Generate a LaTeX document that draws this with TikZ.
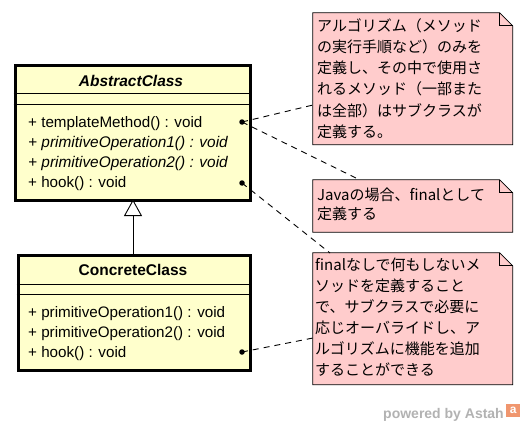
\documentclass[tikz,border=0pt]{standalone}
\usepackage{fontspec}
\setmainfont{Liberation Sans}
\newfontfamily\jpfont{Noto Sans CJK JP}
\usetikzlibrary{arrows.meta}
\definecolor{classyellow}{RGB}{255,255,204}
\definecolor{notepink}{RGB}{255,204,204}
\definecolor{wmgray}{RGB}{178,178,178}
\definecolor{astahorange}{RGB}{240,150,110}
\begin{document}
\begin{tikzpicture}[x=1pt,y=-1pt,
  classbox/.style={draw, line width=3pt, fill=classyellow, inner sep=0, anchor=north west},
  compline/.style={line width=0.9pt},
  clsname/.style={inner sep=0, font=\bfseries\fontsize{15.5}{18}\selectfont},
  optext/.style={anchor=base west, inner sep=0, font=\fontsize{15.2}{20}\selectfont},
  noterect/.style={inner sep=0, minimum width=199.5pt},
  notefill/.style={draw, fill=notepink, line width=0.8pt},
  notetext/.style={anchor=north west, inner sep=0, align=left},
  notedash/.style={dash pattern=on 6pt off 5pt, line width=0.9pt},
  attach/.style={circle, fill=black, inner sep=0, minimum size=5.5pt},
  gentip/.style={-{Triangle[length=16.5pt,width=18pt,fill=white]}, line width=0.9pt}
]
\useasboundingbox (0,0) rectangle (526,425);
\fill[white] (0,0) rectangle (526,425);

% ---------- AbstractClass ----------
\node[classbox, minimum width=235pt, minimum height=134.5pt] (abs) at (13.5,64.5) {};
\draw[compline] (13.5,93) -- (248.5,93);
\draw[compline] (13.5,104) -- (248.5,104);
\node[clsname, font=\bfseries\itshape\fontsize{15.5}{18}\selectfont] (absname) at (131,81) {AbstractClass};
\node[optext] (abs1) at (28,127) {+ templateMethod() : void};
\node[optext, font=\itshape\fontsize{15.4}{20}\selectfont] (abs2) at (28,147) {+ primitiveOperation1() : void};
\node[optext, font=\itshape\fontsize{15.4}{20}\selectfont] (abs3) at (28,167) {+ primitiveOperation2() : void};
\node[optext] (abs4) at (28,187) {+ hook() : void};

% ---------- ConcreteClass ----------
\node[classbox, minimum width=232pt, minimum height=115pt] (conc) at (16.5,254) {};
\draw[compline] (16.5,284) -- (248.5,284);
\draw[compline] (16.5,294) -- (248.5,294);
\node[clsname] (concname) at (133,270) {ConcreteClass};
\node[optext] (conc1) at (28,317) {+ primitiveOperation1() : void};
\node[optext] (conc2) at (28,337) {+ primitiveOperation2() : void};
\node[optext] (conc3) at (28,357) {+ hook() : void};

% generalization
\draw[gentip] (133,254) -- (133,199.5);

% ---------- Notes ----------
\node[noterect, minimum height=131.5pt] (n1) at (412.75,78.75) {};
\node[noterect, minimum height=52pt] (n2) at (412.75,206) {};
\node[noterect, minimum height=131.5pt] (n3) at (412.75,318.75) {};
\foreach \n in {n1,n2,n3}{
  \draw[notefill] (\n.north west) -- ([xshift=-13pt]\n.north east) -- ([yshift=-13pt]\n.north east) -- (\n.south east) -- (\n.south west) -- cycle;
  \draw[line width=0.8pt] ([xshift=-13pt]\n.north east) -- ([xshift=-13pt,yshift=-13pt]\n.north east) -- ([yshift=-13pt]\n.north east);
}
\node[notetext, font=\jpfont\fontsize{15}{21.3}\selectfont] (t1) at (317,18) {アルゴリズム（メソッド\\の実行手順など）のみを\\定義し、その中で使用さ\\れるメソッド（一部また\\は全部）はサブクラスが\\定義する。};
\node[notetext, font=\jpfont\fontsize{15}{18.3}\selectfont] (t2) at (317,188) {Javaの場合、finalとして\\定義する};
\node[notetext, font=\jpfont\fontsize{15}{20.9}\selectfont] (t3) at (315,258) {finalなしで何もしないメ\\ソッドを定義すること\\で、サブクラスで必要に\\応じオーバライドし、ア\\ルゴリズムに機能を追加\\することができる};

% ---------- attachments ----------
\node[attach] (d1) at (242,122) {};
\node[attach] (d2) at (242,183) {};
\node[attach] (d3) at (242,352) {};
\coordinate (e1) at (313,105);
\coordinate (e2) at (360,180);
\coordinate (e3) at (330,253);
\coordinate (e4) at (313,338);
\draw[notedash] (d1.center) -- (e1);
\draw[notedash] (d1.center) -- (e2);
\draw[notedash] (d2.center) -- (e3);
\draw[notedash] (d3.center) -- (e4);

% ---------- watermark ----------
\node[anchor=base east, inner sep=0, text=wmgray, font=\bfseries\fontsize{14}{14}\selectfont] (wm) at (504,418) {powered by Astah};
\node[anchor=west, fill=astahorange, text=white, inner sep=0, minimum width=14pt, minimum height=13pt, font=\bfseries\fontsize{12}{12}\selectfont] (logo) at (506,410) {a};
\end{tikzpicture}
\end{document}
